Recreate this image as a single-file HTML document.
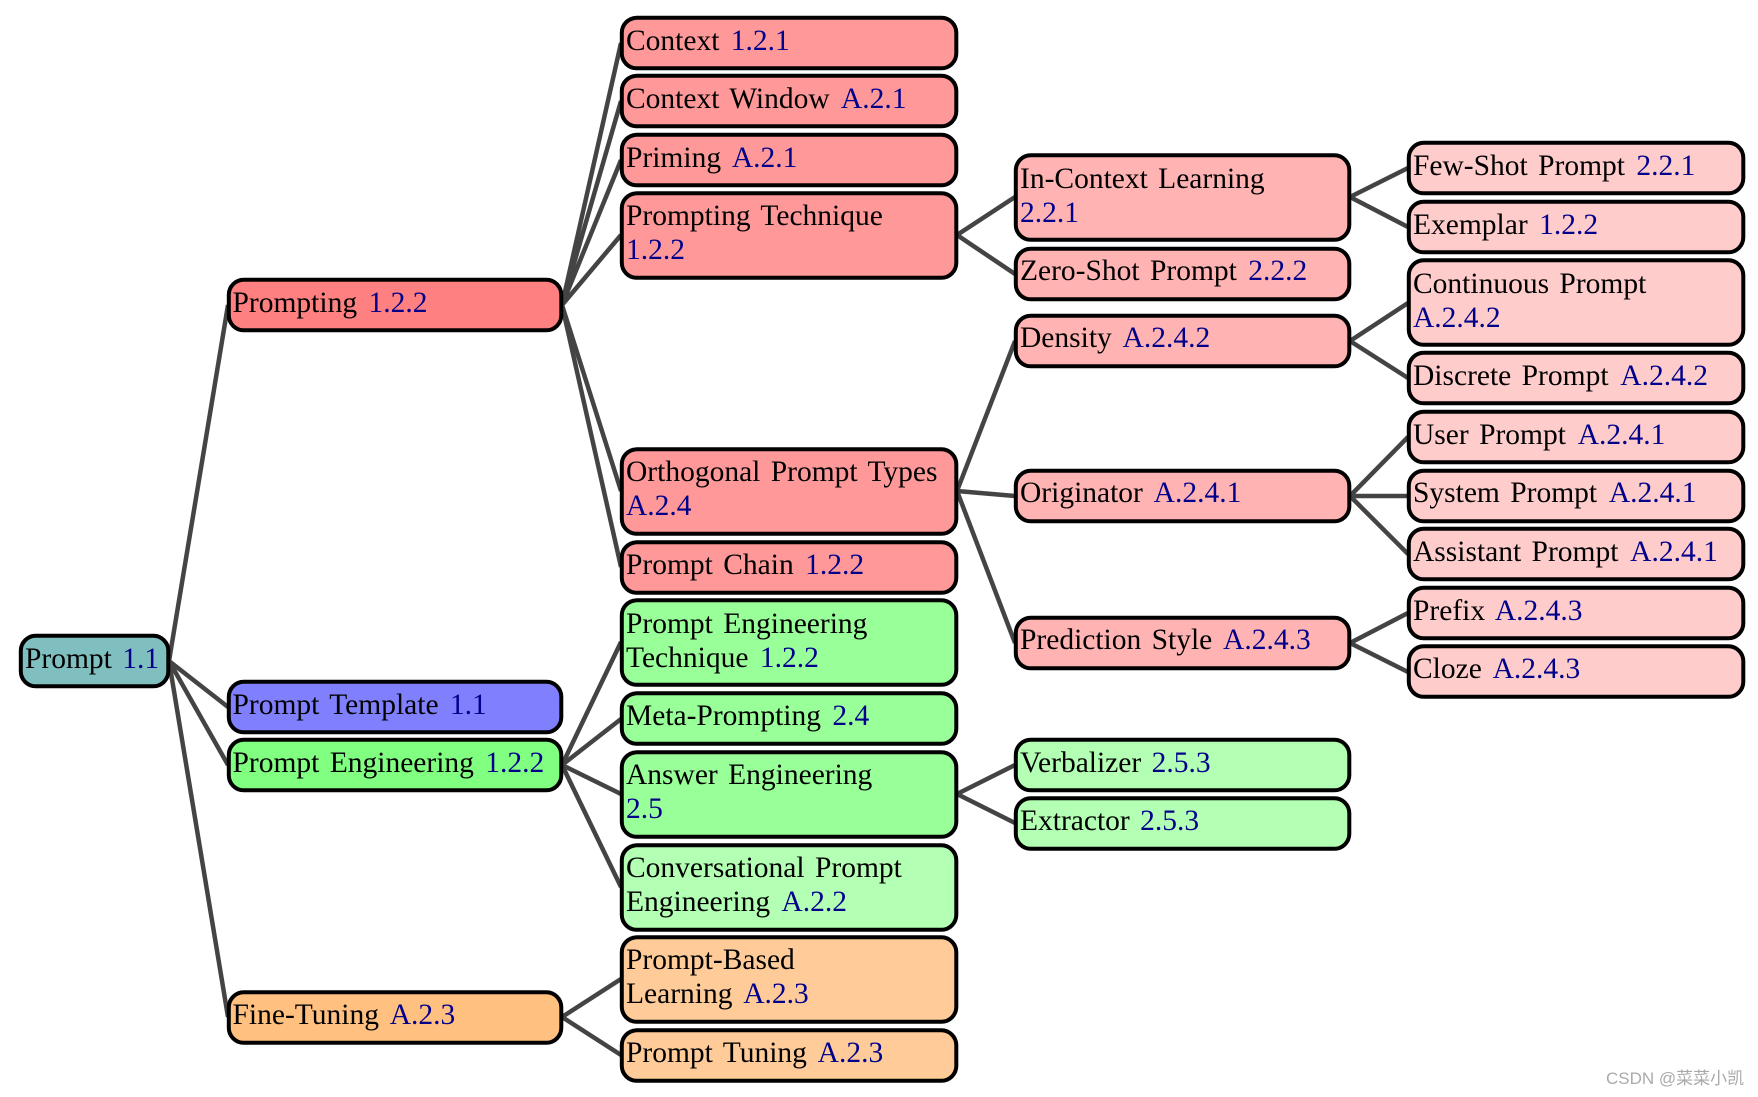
<!DOCTYPE html>
<html><head><meta charset="utf-8"><style>
html,body{margin:0;padding:0;background:#fff}
svg{display:block}
text{font-family:"Liberation Serif",serif;font-size:29.5px;word-spacing:3px;fill:#000}
tspan{fill:#00008b}
rect{stroke:#000;stroke-width:4}
line{stroke:#444;stroke-width:4.5}
.w{font-family:"Liberation Sans","Noto Sans CJK SC",sans-serif;font-size:17px;fill:#aaa;word-spacing:0}
</style></head><body>
<svg width="1758" height="1097" viewBox="0 0 1758 1097" xmlns="http://www.w3.org/2000/svg">
<g>
<line x1="169" y1="661" x2="228" y2="305"/><line x1="169" y1="661" x2="228" y2="707"/><line x1="169" y1="661" x2="228" y2="765"/><line x1="169" y1="661" x2="228" y2="1017"/>
<line x1="562" y1="305" x2="621" y2="43"/><line x1="562" y1="305" x2="621" y2="101"/><line x1="562" y1="305" x2="621" y2="160"/><line x1="562" y1="305" x2="621" y2="235"/><line x1="562" y1="305" x2="621" y2="491"/><line x1="562" y1="305" x2="621" y2="567"/>
<line x1="562" y1="765" x2="621" y2="642"/><line x1="562" y1="765" x2="621" y2="719"/><line x1="562" y1="765" x2="621" y2="794"/><line x1="562" y1="765" x2="621" y2="887"/>
<line x1="562" y1="1017" x2="621" y2="979"/><line x1="562" y1="1017" x2="621" y2="1055"/>
<line x1="957" y1="235" x2="1015" y2="197"/><line x1="957" y1="235" x2="1015" y2="274"/>
<line x1="957" y1="491" x2="1015" y2="341"/><line x1="957" y1="491" x2="1015" y2="496"/><line x1="957" y1="491" x2="1015" y2="643"/>
<line x1="957" y1="794" x2="1015" y2="765"/><line x1="957" y1="794" x2="1015" y2="823"/>
<line x1="1350" y1="197" x2="1408" y2="168"/><line x1="1350" y1="197" x2="1408" y2="227"/>
<line x1="1350" y1="341" x2="1408" y2="303"/><line x1="1350" y1="341" x2="1408" y2="378"/>
<line x1="1350" y1="496" x2="1408" y2="437"/><line x1="1350" y1="496" x2="1408" y2="496"/><line x1="1350" y1="496" x2="1408" y2="554"/>
<line x1="1350" y1="643" x2="1408" y2="613"/><line x1="1350" y1="643" x2="1408" y2="672"/>
</g>
<g>
<rect x="20.8" y="635.8" width="147.5" height="50.5" rx="15" fill="#80bfbf"/>
<text x="25" y="668">Prompt <tspan dx="0">1.1</tspan></text>

<rect x="228.8" y="279.8" width="332.5" height="50.5" rx="15" fill="#ff8080"/>
<text x="232.5" y="312">Prompting <tspan dx="1">1.2.2</tspan></text>
<rect x="228.8" y="681.8" width="332.5" height="50.5" rx="15" fill="#8080ff"/>
<text x="232.5" y="714">Prompt Template <tspan dx="1">1.1</tspan></text>
<rect x="228.8" y="739.8" width="332.5" height="50.5" rx="15" fill="#80ff80"/>
<text x="232.5" y="772">Prompt Engineering <tspan dx="1">1.2.2</tspan></text>
<rect x="228.8" y="992.3" width="332.5" height="50.5" rx="15" fill="#ffc080"/>
<text x="232.5" y="1024">Fine-Tuning <tspan dx="2">A.2.3</tspan></text>

<rect x="621.8" y="17.8" width="334.5" height="50.5" rx="15" fill="#ff9999"/>
<text x="626" y="50">Context <tspan dx="1">1.2.1</tspan></text>
<rect x="621.8" y="75.8" width="334.5" height="50.5" rx="15" fill="#ff9999"/>
<text x="626" y="108">Context Window <tspan dx="2.5">A.2.1</tspan></text>
<rect x="621.8" y="134.8" width="334.5" height="50.5" rx="15" fill="#ff9999"/>
<text x="626" y="167">Priming <tspan dx="2">A.2.1</tspan></text>
<rect x="621.8" y="193.3" width="334.5" height="84.5" rx="15" fill="#ff9999"/>
<text x="626" y="225">Prompting Technique</text><text x="626" y="259"><tspan>1.2.2</tspan></text>
<rect x="621.8" y="449.3" width="334.5" height="84.5" rx="15" fill="#ff9999"/>
<text x="626" y="481">Orthogonal Prompt Types</text><text x="626" y="515"><tspan>A.2.4</tspan></text>
<rect x="621.8" y="542.3" width="334.5" height="50.5" rx="15" fill="#ff9999"/>
<text x="626" y="574">Prompt Chain <tspan dx="1">1.2.2</tspan></text>
<rect x="621.8" y="600.3" width="334.5" height="84.5" rx="15" fill="#99ff99"/>
<text x="626" y="633">Prompt Engineering</text><text x="626" y="667">Technique <tspan dx="1">1.2.2</tspan></text>
<rect x="621.8" y="693.3" width="334.5" height="50.5" rx="15" fill="#99ff99"/>
<text x="626" y="725">Meta-Prompting <tspan dx="1">2.4</tspan></text>
<rect x="621.8" y="752.3" width="334.5" height="84.5" rx="15" fill="#99ff99"/>
<text x="626" y="784">Answer Engineering</text><text x="626" y="818"><tspan>2.5</tspan></text>
<rect x="621.8" y="845.3" width="334.5" height="84.5" rx="15" fill="#b3ffb3"/>
<text x="626" y="877">Conversational Prompt</text><text x="626" y="911">Engineering <tspan dx="2.5">A.2.2</tspan></text>
<rect x="621.8" y="937.3" width="334.5" height="84.5" rx="15" fill="#ffcc99"/>
<text x="626" y="969">Prompt-Based</text><text x="626" y="1003">Learning <tspan dx="2">A.2.3</tspan></text>
<rect x="621.8" y="1030.3" width="334.5" height="50.5" rx="15" fill="#ffcc99"/>
<text x="626" y="1062">Prompt Tuning <tspan dx="2">A.2.3</tspan></text>

<rect x="1015.8" y="155.3" width="333.5" height="84.5" rx="15" fill="#ffb3b3"/>
<text x="1020" y="188">In-Context Learning</text><text x="1020" y="222"><tspan>2.2.1</tspan></text>
<rect x="1015.8" y="248.8" width="333.5" height="50.5" rx="15" fill="#ffb3b3"/>
<text x="1020" y="280">Zero-Shot Prompt <tspan dx="1">2.2.2</tspan></text>
<rect x="1015.8" y="315.8" width="333.5" height="50.5" rx="15" fill="#ffb3b3"/>
<text x="1020" y="347">Density <tspan dx="2">A.2.4.2</tspan></text>
<rect x="1015.8" y="470.8" width="333.5" height="50.5" rx="15" fill="#ffb3b3"/>
<text x="1020" y="502">Originator <tspan dx="2">A.2.4.1</tspan></text>
<rect x="1015.8" y="617.8" width="333.5" height="50.5" rx="15" fill="#ffb3b3"/>
<text x="1020" y="649">Prediction Style <tspan dx="2">A.2.4.3</tspan></text>
<rect x="1015.8" y="739.8" width="333.5" height="50.5" rx="15" fill="#b3ffb3"/>
<text x="1020" y="772">Verbalizer <tspan>2.5.3</tspan></text>
<rect x="1015.8" y="798.3" width="333.5" height="50.5" rx="15" fill="#b3ffb3"/>
<text x="1020" y="830">Extractor <tspan>2.5.3</tspan></text>

<rect x="1408.8" y="142.8" width="334.5" height="50.5" rx="15" fill="#ffcccc"/>
<text x="1413" y="175">Few-Shot Prompt <tspan dx="1">2.2.1</tspan></text>
<rect x="1408.8" y="201.8" width="334.5" height="50.5" rx="15" fill="#ffcccc"/>
<text x="1413" y="234">Exemplar <tspan dx="1">1.2.2</tspan></text>
<rect x="1408.8" y="260.3" width="334.5" height="84.5" rx="15" fill="#ffcccc"/>
<text x="1413" y="293">Continuous Prompt</text><text x="1413" y="327"><tspan>A.2.4.2</tspan></text>
<rect x="1408.8" y="352.8" width="334.5" height="50.5" rx="15" fill="#ffcccc"/>
<text x="1413" y="385">Discrete Prompt <tspan dx="3">A.2.4.2</tspan></text>
<rect x="1408.8" y="411.8" width="334.5" height="50.5" rx="15" fill="#ffcccc"/>
<text x="1413" y="444">User Prompt <tspan dx="3">A.2.4.1</tspan></text>
<rect x="1408.8" y="470.8" width="334.5" height="50.5" rx="15" fill="#ffcccc"/>
<text x="1413" y="502">System Prompt <tspan dx="3">A.2.4.1</tspan></text>
<rect x="1408.8" y="528.8" width="334.5" height="50.5" rx="15" fill="#ffcccc"/>
<text x="1413" y="561">Assistant Prompt <tspan dx="3">A.2.4.1</tspan></text>
<rect x="1408.8" y="587.8" width="334.5" height="50.5" rx="15" fill="#ffcccc"/>
<text x="1413" y="620">Prefix <tspan dx="1">A.2.4.3</tspan></text>
<rect x="1408.8" y="646.3" width="334.5" height="50.5" rx="15" fill="#ffcccc"/>
<text x="1413" y="678">Cloze <tspan dx="2">A.2.4.3</tspan></text>
</g>
<text class="w" x="1606" y="1084">CSDN @菜菜小凯</text>
</svg>
</body></html>
